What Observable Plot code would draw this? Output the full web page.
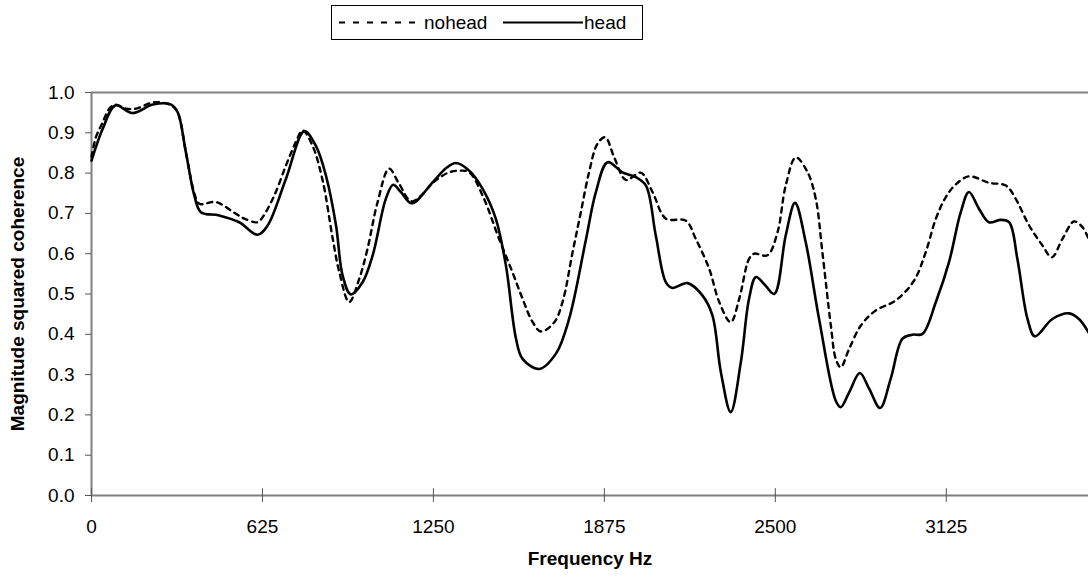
<!DOCTYPE html>
<html>
<head>
<meta charset="utf-8">
<script src="https://cdn.jsdelivr.net/npm/d3@7"></script>
<script src="https://cdn.jsdelivr.net/npm/@observablehq/plot@0.6"></script>
<style>
  html, body { margin: 0; padding: 0; background: #fff; }
  #wrap { position: relative; width: 1088px; height: 581px; font-family: "Liberation Sans", Arial, sans-serif; }
  #legend { position: absolute; left: 331px; top: 5px; }
  #legend svg { display: block; }
</style>
</head>
<body>
<div id="wrap">
  <div id="legend"></div>
</div>
<script>
const seriesNames = ["nohead", "head"];
const xTicks = [0, 625, 1250, 1875, 2500, 3125];
const yTicks = [0, 0.1, 0.2, 0.3, 0.4, 0.5, 0.6, 0.7, 0.8, 0.9, 1.0];
const xLabel = "Frequency Hz";
const yLabel = "Magnitude squared coherence";

const headFreq = [0,41,87,150,224,291,315,345,376,400,467,540,607,644,711,778,820,857,894,918,948,991,1028,1076,1103,1131,1171,1247,1296,1332,1381,1430,1478,1515,1552,1576,1637,1698,1746,1807,1844,1887,1941,1990,2027,2063,2100,2124,2179,2234,2270,2301,2337,2374,2404,2429,2459,2496,2538,2572,2611,2660,2721,2739,2770,2809,2843,2883,2922,2965,3001,3038,3087,3135,3178,3208,3245,3281,3324,3355,3385,3422,3449,3513,3574,3610,3645];
const headVal = [0.831,0.910,0.968,0.949,0.970,0.970,0.951,0.852,0.744,0.703,0.695,0.678,0.647,0.670,0.786,0.904,0.868,0.794,0.670,0.546,0.499,0.529,0.596,0.736,0.771,0.753,0.725,0.777,0.812,0.825,0.806,0.761,0.687,0.571,0.389,0.339,0.314,0.352,0.438,0.633,0.753,0.827,0.802,0.790,0.769,0.645,0.529,0.515,0.527,0.496,0.447,0.306,0.207,0.331,0.488,0.542,0.525,0.500,0.645,0.726,0.629,0.438,0.235,0.219,0.256,0.304,0.265,0.217,0.290,0.389,0.399,0.401,0.480,0.579,0.703,0.753,0.711,0.678,0.684,0.678,0.587,0.438,0.395,0.438,0.452,0.438,0.405];

const noheadFreq = [0,16,41,65,87,126,163,230,291,315,345,376,394,455,528,559,607,626,668,711,747,772,808,845,882,906,942,979,1009,1046,1088,1125,1171,1259,1308,1344,1381,1430,1490,1539,1576,1613,1643,1692,1722,1759,1789,1819,1850,1878,1911,1954,2008,2051,2100,2173,2209,2258,2295,2337,2368,2404,2423,2471,2508,2538,2575,2618,2648,2672,2703,2721,2739,2770,2813,2867,2940,3007,3050,3087,3123,3160,3208,3281,3343,3379,3428,3477,3511,3550,3592,3623,3645];
const noheadVal = [0.840,0.889,0.926,0.960,0.970,0.960,0.960,0.976,0.968,0.951,0.852,0.750,0.724,0.728,0.699,0.687,0.678,0.691,0.744,0.819,0.877,0.906,0.868,0.782,0.637,0.554,0.480,0.538,0.612,0.728,0.811,0.773,0.730,0.782,0.802,0.806,0.802,0.744,0.637,0.554,0.488,0.430,0.407,0.430,0.480,0.604,0.703,0.802,0.873,0.889,0.839,0.783,0.801,0.753,0.687,0.682,0.637,0.563,0.480,0.430,0.488,0.587,0.600,0.596,0.653,0.769,0.839,0.802,0.736,0.604,0.422,0.339,0.318,0.364,0.422,0.459,0.484,0.533,0.604,0.687,0.740,0.772,0.792,0.776,0.769,0.736,0.670,0.620,0.591,0.637,0.680,0.666,0.637];

const head = headFreq.map((f, i) => ({f, v: headVal[i]}));
const nohead = noheadFreq.map((f, i) => ({f, v: noheadVal[i]}));

const axisColor = "#808080";
const font = "'Liberation Sans', Arial, sans-serif";
const fs = 19;

const chart = Plot.plot({
  width: 1088,
  height: 581,
  marginLeft: 91,
  marginRight: 0,
  marginTop: 92,
  marginBottom: 86,
  style: {fontFamily: font, fontSize: fs + "px", color: "#000", background: "#fff"},
  x: {domain: [0, 3645]},
  y: {domain: [0, 1]},
  marks: [
    Plot.ruleY([1], {stroke: axisColor, strokeWidth: 2}),
    Plot.ruleY([0], {stroke: axisColor, strokeWidth: 2}),
    Plot.ruleX([0], {stroke: axisColor, strokeWidth: 2}),
    Plot.axisY({ticks: yTicks, tickFormat: d3.format(".1f"), tickSize: 6, tickPadding: 11, label: null, stroke: "#555", fontSize: fs}),
    Plot.axisX({ticks: xTicks, tickFormat: d => String(d), tickSize: 7, tickPadding: 17, label: null, stroke: "#555", fontSize: fs}),
    Plot.ruleX(xTicks, {y1: 0, y2: 0.017, stroke: "#555"}),
    Plot.line(nohead, {x: "f", y: "v", stroke: "#000", strokeWidth: 2.4, strokeDasharray: "5,5", curve: "catmull-rom"}),
    Plot.line(head, {x: "f", y: "v", stroke: "#000", strokeWidth: 2.6, curve: "catmull-rom"}),
    Plot.text([yLabel], {frameAnchor: "left", textAnchor: "middle", lineAnchor: "middle", dx: -74, rotate: -90, fontWeight: "bold", fontSize: fs, fill: "#000"}),
    Plot.text([xLabel], {frameAnchor: "bottom", textAnchor: "middle", lineAnchor: "middle", dy: 63, fontWeight: "bold", fontSize: fs, fill: "#000"})
  ]
});
const wrap = document.getElementById("wrap");
chart.style.position = "absolute";
chart.style.left = "0";
chart.style.top = "0";
wrap.insertBefore(chart, wrap.firstChild);

// legend
const lg = d3.select("#legend").append("svg").attr("width", 313).attr("height", 36)
  .style("font-family", font).style("font-size", fs + "px");
lg.append("rect").attr("x", 0.5).attr("y", 0.5).attr("width", 311).attr("height", 34)
  .attr("fill", "#fff").attr("stroke", "#000").attr("stroke-width", 1);
const items = [
  {name: seriesNames[0], dash: "6,8", x1: 8, x2: 92, tx: 93},
  {name: seriesNames[1], dash: null, x1: 172, x2: 252, tx: 253}
];
items.forEach(it => {
  lg.append("line").attr("x1", it.x1).attr("x2", it.x2).attr("y1", 17.5).attr("y2", 17.5)
    .attr("stroke", "#000").attr("stroke-width", 2).attr("stroke-dasharray", it.dash);
  lg.append("text").attr("x", it.tx).attr("y", 17.5).attr("dy", "0.35em").attr("fill", "#000").text(it.name);
});
</script>
</body>
</html>
